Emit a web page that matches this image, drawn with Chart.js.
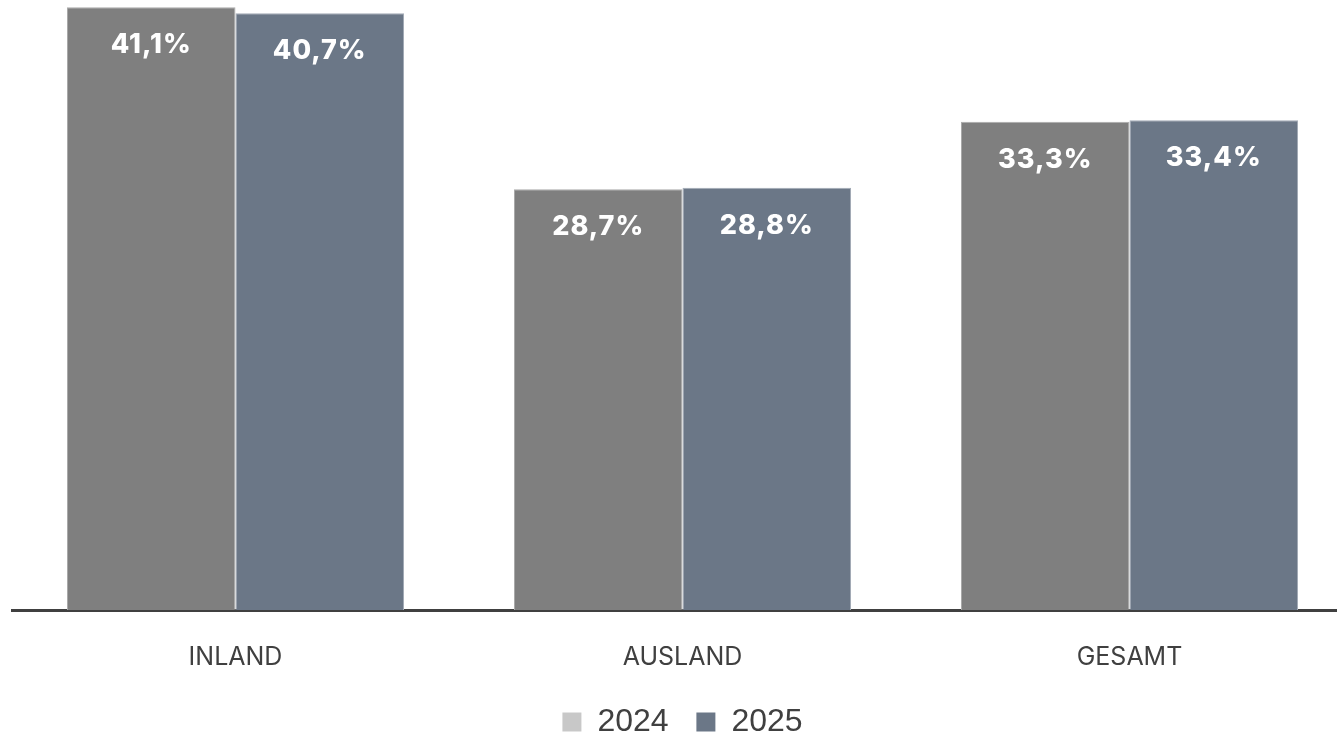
<!DOCTYPE html>
<html>
<head>
<meta charset="utf-8">
<script src="https://cdn.jsdelivr.net/npm/chart.js@4/dist/chart.umd.min.js"></script>
<style>
  html, body { margin: 0; padding: 0; background: #fff; overflow: hidden; }
  #wrap { width: 1353px; height: 748px; }
</style>
</head>
<body>
<div id="wrap"><canvas id="chart1"></canvas></div>
<script>
const categories = ['INLAND', 'AUSLAND', 'GESAMT'];
const values2024 = [41.1, 28.7, 33.3];
const values2025 = [40.7, 28.8, 33.4];
const seriesNames = ['2024', '2025'];

const legendColors = ['#c8c8c8', '#6b7787'];

// white value labels inside the bars, near the top
const valueLabels = {
    id: 'valueLabels',
    afterDatasetsDraw(chart) {
        const ctx = chart.ctx;
        ctx.save();
        ctx.fillStyle = '#ffffff';
        ctx.font = '800 27px Inter';
        ctx.letterSpacing = '1px';
        ctx.textAlign = 'center';
        ctx.textBaseline = 'middle';
        chart.data.datasets.forEach((ds, i) => {
            chart.getDatasetMeta(i).data.forEach((bar, j) => {
                const txt = ds.data[j].toFixed(1).replace('.', ',') + '%';
                ctx.fillText(txt, bar.x, bar.y + 38);
            });
        });
        ctx.restore();
    }
};

const data = {
    labels: categories,
    datasets: [{
        label: seriesNames[0],
        backgroundColor: '#7f7f7f',
        borderColor: '#ababab',
        borderWidth: 1,
        data: values2024,
    }, {
        label: seriesNames[1],
        backgroundColor: '#6b7787',
        borderColor: '#a3abb6',
        borderWidth: 1,
        data: values2025,
    }]
};

const config = {
    type: 'bar',
    data: data,
    options: {
        responsive: true,
        maintainAspectRatio: false,
        animation: false,
        categoryPercentage: 0.754,
        barPercentage: 1.0,
        layout: { padding: { left: 12, right: 0, top: 0, bottom: 0 } },
        scales: {
            x: {
                grid: { display: false },
                border: { display: true, color: '#404040', width: 3 },
                ticks: {
                    color: '#404040',
                    font: { family: 'Inter', size: 25 },
                    padding: 24
                }
            },
            y: {
                display: false,
                min: 0,
                max: 41.6
            }
        },
        plugins: {
            tooltip: { enabled: false },
            legend: {
                position: 'bottom',
                labels: {
                    boxWidth: 19,
                    boxHeight: 19,
                    color: '#404040',
                    font: { family: 'Liberation Sans', size: 32 },
                    padding: 10,
                    generateLabels(chart) {
                        // trailing spaces widen the gap between the two items
                        return chart.data.datasets.map((ds, i) => ({
                            text: i === 0 ? ds.label + '  ' : ds.label,
                            fillStyle: legendColors[i],
                            strokeStyle: legendColors[i],
                            lineWidth: 0,
                            fontColor: '#404040',
                            datasetIndex: i
                        }));
                    }
                }
            }
        }
    },
    plugins: [valueLabels]
};

// eslint-disable-next-line
const chartOne = new Chart(document.getElementById('chart1'), config);
</script>
</body>
</html>
